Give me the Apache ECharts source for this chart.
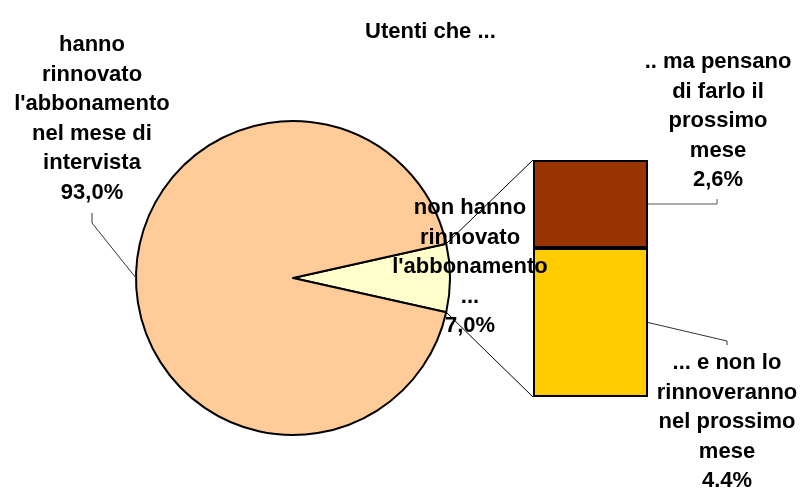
<!DOCTYPE html>
<html>
<head>
<meta charset="utf-8">
<title>Utenti che ...</title>
<script src="https://cdn.jsdelivr.net/npm/echarts@6/dist/echarts.min.js"></script>
<style>
    body { margin: 0; background: #fff; }
    #main { width: 802px; height: 488px; }
</style>
</head>
<body>
<div id="main"></div>
<script type="text/javascript">
// dati
var titolo = 'Utenti che ...';
var pieNomi = ["non hanno\nrinnovato\nl'abbonamento\n...", "hanno\nrinnovato\nl'abbonamento\nnel mese di\nintervista"];
var pieValori = [7.0, 93.0];
var pieEtichette = ['7,0%', '93,0%'];
var barNomi = ["... e non lo\nrinnoveranno\nnel prossimo\nmese", ".. ma pensano\ndi farlo il\nprossimo\nmese"];
var barValori = [4.4, 2.6];
var barEtichette = ['4.4%', '2,6%'];
var pieColori = ['#FFFFCC', '#FFCC99'];
var barColori = ['#FFCC00', '#993300'];

// layout
var CX = 293, CY = 278, R = 157;
var BAR_L = 533, BAR_T = 160, BAR_W = 115, BAR_H = 237;
var pieLabelPos = [[470, 267], [92, 119]];
var barLabelPos = [[727, 422], [718, 121]];
var FONT = 'Liberation Sans, Arial, sans-serif';

var totPie = pieValori[0] + pieValori[1];
var totBar = barValori[0] + barValori[1];
// fetta piccola centrata su 0 gradi
var startAngle = 360 * pieValori[0] / totPie / 2;

var labelStyle = {
    show: true,
    color: '#000',
    fontFamily: FONT,
    fontWeight: 'bold',
    fontSize: 22,
    lineHeight: 29.5,
    align: 'center'
};

var chart = echarts.init(document.getElementById('main'));

var option = {
    backgroundColor: '#fff',
    animation: false,
    title: {
        text: titolo,
        left: 360,
        top: 16,
        textStyle: { fontFamily: FONT, fontWeight: 'bold', fontSize: 22, color: '#000' }
    },
    grid: { left: BAR_L, top: BAR_T, width: BAR_W, height: BAR_H },
    xAxis: { type: 'category', data: ['x'], show: false },
    yAxis: { type: 'value', min: 0, max: totBar, show: false, splitLine: { show: false } },
    series: [
        {
            type: 'pie',
            center: [CX, CY],
            radius: R,
            startAngle: startAngle,
            clockwise: true,
            avoidLabelOverlap: false,
            itemStyle: { borderColor: '#000', borderWidth: 2 },
            label: Object.assign({}, labelStyle, {
                formatter: function (p) { return p.name + '\n' + pieEtichette[p.dataIndex]; }
            }),
            labelLine: { show: false },
            labelLayout: function (p) {
                var pos = pieLabelPos[p.dataIndex];
                return { x: pos[0], y: pos[1], align: 'center', verticalAlign: 'middle' };
            },
            data: pieValori.map(function (v, i) {
                return { name: pieNomi[i], value: v, itemStyle: { color: pieColori[i] } };
            })
        }
    ].concat(barValori.map(function (v, i) {
        return {
            type: 'bar',
            stack: 'tot',
            barWidth: '100%',
            name: barNomi[i],
            itemStyle: { color: barColori[i], borderColor: '#000', borderWidth: 2 },
            label: Object.assign({}, labelStyle, {
                formatter: function () { return barNomi[i] + '\n' + barEtichette[i]; }
            }),
            labelLayout: function () {
                return { x: barLabelPos[i][0], y: barLabelPos[i][1], align: 'center', verticalAlign: 'middle' };
            },
            data: [v]
        };
    }))
};
chart.setOption(option);

// linee di collegamento e di richiamo
function puntoPie(gradi) {
    var a = gradi * Math.PI / 180;
    return [CX + R * Math.cos(a), CY - R * Math.sin(a)];
}
var aSopra = startAngle;
var aSotto = startAngle - 360 * pieValori[0] / totPie;
var aGrande = aSotto - 360 * pieValori[1] / totPie / 2;
var pSopra = puntoPie(aSopra), pSotto = puntoPie(aSotto), pGrande = puntoPie(aGrande);

var yTop = chart.convertToPixel({ yAxisIndex: 0 }, totBar);
var yBot = chart.convertToPixel({ yAxisIndex: 0 }, 0);
var yMidBasso = chart.convertToPixel({ yAxisIndex: 0 }, barValori[0] / 2);
var yMidAlto = chart.convertToPixel({ yAxisIndex: 0 }, barValori[0] + barValori[1] / 2);
var xDx = BAR_L + BAR_W;

function linea(punti, colore) {
    return {
        type: 'polyline',
        silent: true,
        z: 10,
        shape: { points: punti },
        style: { stroke: colore, lineWidth: 1, fill: null }
    };
}

chart.setOption({
    graphic: [
        linea([[BAR_L, yTop], pSopra], '#000'),
        linea([[BAR_L, yBot], pSotto], '#000'),
        linea([pGrande, [92, 223], [92, 213]], '#333'),
        linea([[xDx, yMidAlto], [717, yMidAlto], [717, yMidAlto - 5]], '#555'),
        linea([[xDx, yMidBasso], [727, 341], [727, 345]], '#333')
    ]
});
</script>
</body>
</html>
